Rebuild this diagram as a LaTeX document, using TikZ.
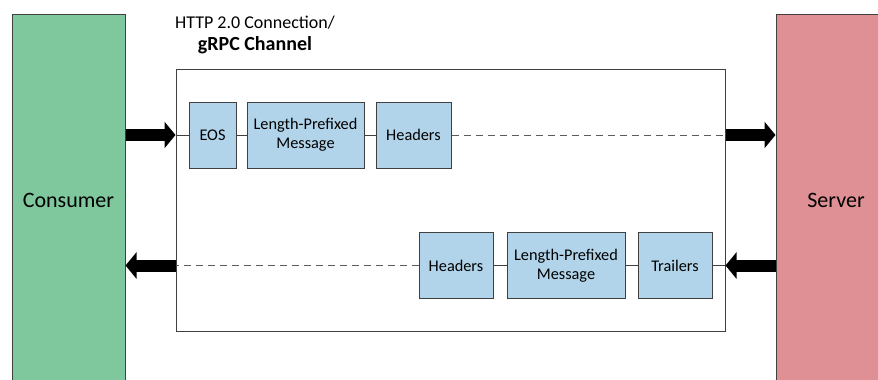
\documentclass[tikz,border=0pt]{standalone}
\usepackage{fontspec}
\setmainfont{Carlito}
\usetikzlibrary{arrows.meta}

\definecolor{consumergreen}{RGB}{127,200,158}
\definecolor{serverred}{RGB}{223,144,148}
\definecolor{msgblue}{RGB}{178,212,234}
\definecolor{edgegray}{RGB}{64,64,64}
\definecolor{dashgray}{RGB}{90,90,90}

\tikzset{
    endpoint/.style={draw=edgegray, line width=1pt, minimum width=113pt, minimum height=372pt, inner sep=0pt, font=\fontsize{22}{25}\selectfont},
    channel/.style={draw=edgegray, line width=1pt, minimum width=549pt, minimum height=262pt, inner sep=0pt},
    msg/.style={draw=edgegray, fill=msgblue, line width=1pt, minimum height=66pt, inner sep=0pt, align=center, font=\fontsize{16.3}{19}\selectfont},
    link/.style={draw=edgegray, line width=1pt},
    dashlink/.style={draw=dashgray, line width=1pt, dash pattern=on 7pt off 5pt},
    fatarrow/.style={line width=12pt, -{Triangle[length=11pt,width=26pt]}},
}

\begin{document}
\begin{tikzpicture}[x=1pt, y=1pt]
        \useasboundingbox (0,0) rectangle (878,-380);
        \clip (0,0) rectangle (878,-380);

        % Nodes
        \node (consumer) [endpoint, fill=consumergreen] at (68.5, -200) {Consumer};
        \node (server) [endpoint, fill=serverred, minimum width=120pt] at (836, -200) {Server};
        \node (chan) [channel] at (450.5, -200) {};
        \node (title1) [font=\fontsize{18}{20}\selectfont] at (255, -23) {HTTP 2.0 Connection/};
        \node (title2) [font=\fontsize{20}{22}\selectfont\bfseries] at (255, -45) {gRPC Channel};

        \node (eos) [msg, minimum width=47pt] at (212.5, -135) {EOS};
        \node (lpm1) [msg, minimum width=117pt] at (305.5, -135) {Length-Prefixed\\Message};
        \node (hdr1) [msg, minimum width=75pt] at (413.5, -135) {Headers};
        \node (hdr2) [msg, minimum width=74pt] at (456, -265.5) {Headers};
        \node (lpm2) [msg, minimum width=118pt] at (566, -265.5) {Length-Prefixed\\Message};
        \node (trl) [msg, minimum width=74pt] at (675, -265.5) {Trailers};

        \coordinate (inL) at (chan.west |- eos);
        \coordinate (outR) at (chan.east |- eos);
        \coordinate (inR) at (chan.east |- trl);
        \coordinate (outL) at (chan.west |- trl);

        % Edges
        \draw[link] (inL) -- (eos);
        \draw[link] (eos) -- (lpm1);
        \draw[link] (lpm1) -- (hdr1);
        \draw[dashlink] (hdr1) -- (outR);
        \draw[link] (inR) -- (trl);
        \draw[link] (trl) -- (lpm2);
        \draw[link] (lpm2) -- (hdr2);
        \draw[dashlink] (hdr2) -- (outL);

        \draw[fatarrow] (consumer.east |- eos) -- (inL);
        \draw[fatarrow] (outR) -- (server.west |- eos);
        \draw[fatarrow] (server.west |- trl) -- (inR);
        \draw[fatarrow] (outL) -- (consumer.east |- trl);
    \end{tikzpicture}
\end{document}
